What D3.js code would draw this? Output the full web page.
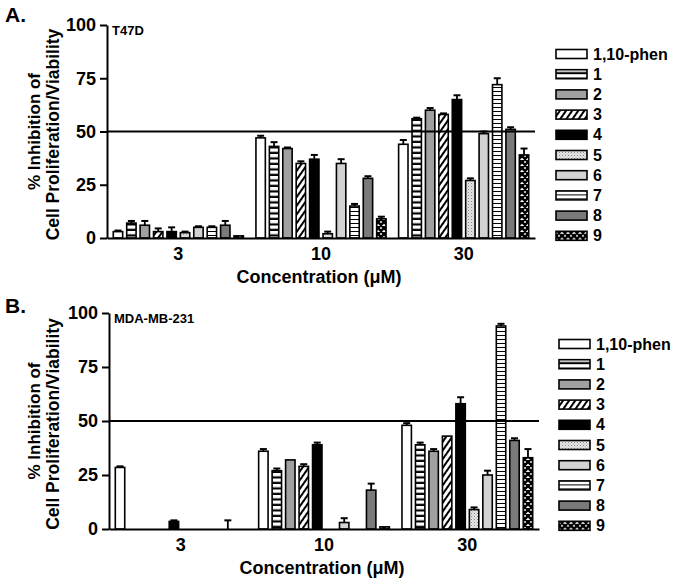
<!DOCTYPE html>
<html><head><meta charset="utf-8">
<script src="https://cdn.jsdelivr.net/npm/d3@7"></script>
<style>body{margin:0;background:#fff}svg{display:block}text{font-family:"Liberation Sans",Arial,sans-serif;font-weight:bold;fill:#000}</style>
</head><body><svg id="c" width="674" height="588"></svg>
<script>
const categories = ["3", "10", "30"];
const seriesNames = ["1,10-phen", "1", "2", "3", "4", "5", "6", "7", "8", "9"];
const yTicks = [0, 25, 50, 75, 100];
// Panel A: T47D
const t47d_3   = [3, 7, 6, 3, 3, 2.5, 5, 5, 6, 1];
const t47d_3e  = [0.5, 1, 2, 1.5, 2, 0.5, 0.5, 0.5, 2, 0];
const t47d_10  = [47, 43, 42, 35, 37, 2, 35, 15, 28, 9];
const t47d_10e = [1, 2, 0.5, 1, 2, 1, 2, 1, 1, 1];
const t47d_30  = [44, 56, 60, 58, 65, 27, 49, 72, 51, 39];
const t47d_30e = [2, 0.5, 1, 0.5, 2, 1, 1, 3, 1, 3];
// Panel B: MDA-MB-231
const mda_3   = [28.5, 0, 0, 0, 3.5, 0, 0, 0, 0, 0];
const mda_3e  = [0.5, 0, 0, 0, 0.5, 0, 0, 0, 4, 0];
const mda_10  = [36, 27, 32, 29, 39, 0, 3, 0, 18, 1];
const mda_10e = [1, 1, 0, 1, 1, 0, 2, 0, 3, 0];
const mda_30  = [48, 39, 36, 43, 58, 9, 25, 94, 41, 33];
const mda_30e = [1, 1, 1, 0, 3, 1, 2, 1, 1, 4];

const svg = d3.select("#c");
const defs = svg.append("defs");
function pat(id, w, h, build, transform) {
  const p = defs.append("pattern").attr("id", id).attr("patternUnits", "userSpaceOnUse")
    .attr("width", w).attr("height", h);
  if (transform) p.attr("patternTransform", transform);
  build(p);
}
pat("p1", 10, 5.5, p => {
  p.append("rect").attr("width", 10).attr("height", 5.5).attr("fill", "#fff");
  p.append("rect").attr("y", 3.3).attr("width", 10).attr("height", 2.2).attr("fill", "#000");
});
pat("p3", 5, 5, p => {
  p.append("rect").attr("width", 5).attr("height", 5).attr("fill", "#fff");
  p.append("rect").attr("width", 2).attr("height", 5).attr("fill", "#000");
}, "rotate(35)");
pat("p5", 3, 3, p => {
  p.append("rect").attr("width", 3).attr("height", 3).attr("fill", "#e6e6e6");
  p.append("rect").attr("width", 1).attr("height", 1).attr("fill", "#888");
  p.append("rect").attr("x", 1.5).attr("y", 1.5).attr("width", 1).attr("height", 1).attr("fill", "#aaa");
});
pat("p7", 10, 4, p => {
  p.append("rect").attr("width", 10).attr("height", 4).attr("fill", "#fff");
  p.append("rect").attr("y", 3).attr("width", 10).attr("height", 1).attr("fill", "#000");
});
pat("p9", 6, 6, p => {
  p.append("rect").attr("width", 6).attr("height", 6).attr("fill", "#fff");
  p.append("path").attr("d", "M0,0L6,6M6,0L0,6M-3,3L3,9M3,-3L9,3M-3,3L3,-3M3,9L9,3")
    .attr("stroke", "#000").attr("stroke-width", 2.5);
});
const fills = ["#fff", "url(#p1)", "#a0a0a0", "url(#p3)", "#000", "url(#p5)", "#d2d2d2", "url(#p7)", "#7a7a7a", "url(#p9)"];

function panel(cfg) {
  const g = svg.append("g");
  const y = d3.scaleLinear().domain([0, 100]).range([cfg.y0, cfg.y100]);
  const x0 = d3.scaleBand().domain(categories).range([cfg.xl, cfg.xr]).paddingInner(0.088).paddingOuter(0.044);
  const x1 = d3.scaleBand().domain(seriesNames).range([0, x0.bandwidth()]).paddingInner(0.3).paddingOuter(0);
  const rows = categories.map((c, i) => seriesNames.map((s, j) => ({c, s, j, v: cfg.means[i][j], e: cfg.errs[i][j]}))).flat();

  g.selectAll("rect.bar").data(rows).join("rect").attr("class", "bar")
    .attr("x", d => x0(d.c) + x1(d.s)).attr("width", x1.bandwidth())
    .attr("y", d => y(d.v)).attr("height", d => y(0) - y(d.v))
    .attr("fill", d => fills[d.j]).attr("stroke", "#000").attr("stroke-width", 1.6);
  const eg = g.selectAll("g.err").data(rows.filter(d => d.e > 0)).join("g").attr("class", "err");
  const cx = d => x0(d.c) + x1(d.s) + x1.bandwidth() / 2;
  eg.append("line").attr("x1", cx).attr("x2", cx)
    .attr("y1", d => y(d.v)).attr("y2", d => y(d.v + d.e)).attr("stroke", "#000").attr("stroke-width", 1.8);
  eg.append("line").attr("x1", d => cx(d) - 3.5).attr("x2", d => cx(d) + 3.5)
    .attr("y1", d => y(d.v + d.e)).attr("y2", d => y(d.v + d.e)).attr("stroke", "#000").attr("stroke-width", 2);

  g.append("line").attr("x1", cfg.xl).attr("x2", cfg.xr).attr("y1", y(50)).attr("y2", y(50))
    .attr("stroke", "#000").attr("stroke-width", 2);

  const ya = g.append("g").attr("transform", `translate(${cfg.xl},0)`)
    .call(d3.axisLeft(y).tickValues(yTicks).tickSize(7).tickPadding(4).tickSizeOuter(0));
  ya.select(".domain").attr("stroke-width", 2);
  ya.selectAll(".tick line").attr("stroke-width", 2);
  ya.selectAll(".tick text").style("font-size", "18px").style("font-family", "Liberation Sans, Arial").style("font-weight", "bold");
  const xa = g.append("g").attr("transform", `translate(0,${cfg.y0})`)
    .call(d3.axisBottom(x0).tickSize(0).tickPadding(9).tickSizeOuter(0));
  xa.select(".domain").attr("stroke-width", 2);
  xa.selectAll(".tick text").style("font-size", "18px").style("font-family", "Liberation Sans, Arial").style("font-weight", "bold");

  g.append("text").attr("x", (cfg.xl + cfg.xr) / 2 - 2).attr("y", cfg.y0 + 45).attr("text-anchor", "middle")
    .style("font-size", "18px").text("Concentration (μM)");
  const yc = (cfg.y0 + cfg.y100) / 2;
  g.append("text").attr("transform", `translate(34,${yc}) rotate(-90)`).attr("text-anchor", "middle")
    .attr("dominant-baseline", "central").style("font-size", "17px").text("% Inhibition of");
  g.append("text").attr("transform", `translate(53,${yc + 3}) rotate(-90)`).attr("text-anchor", "middle")
    .attr("dominant-baseline", "central").style("font-size", "17.5px").text("Cell Proliferation/Viability");
  g.append("text").attr("x", 5).attr("y", cfg.letterY).style("font-size", "21px").text(cfg.letter);
  g.append("text").attr("x", cfg.xl + 5).attr("y", cfg.y100 + 10).style("font-size", "13px").text(cfg.cell);

  const lg = g.append("g").attr("transform", `translate(${cfg.legX},${cfg.legY})`);
  const li = lg.selectAll("g").data(seriesNames).join("g").attr("transform", (d, i) => `translate(0,${i * 20.2})`);
  li.append("rect").attr("x", 0).attr("y", -4.5).attr("width", 31).attr("height", 9)
    .attr("fill", (d, i) => fills[i]).attr("stroke", "#000").attr("stroke-width", 1.6);
  li.append("text").attr("x", 37).attr("y", 0).attr("dominant-baseline", "central")
    .style("font-size", "16px").text(d => d);
}

panel({y0: 238, y100: 25, xl: 107, xr: 535, letter: "A.", letterY: 22, cell: "T47D",
  means: [t47d_3, t47d_10, t47d_30], errs: [t47d_3e, t47d_10e, t47d_30e], legX: 556, legY: 54});
panel({y0: 529, y100: 313, xl: 109, xr: 539, letter: "B.", letterY: 313, cell: "MDA-MB-231",
  means: [mda_3, mda_10, mda_30], errs: [mda_3e, mda_10e, mda_30e], legX: 559, legY: 344});
</script></body></html>
